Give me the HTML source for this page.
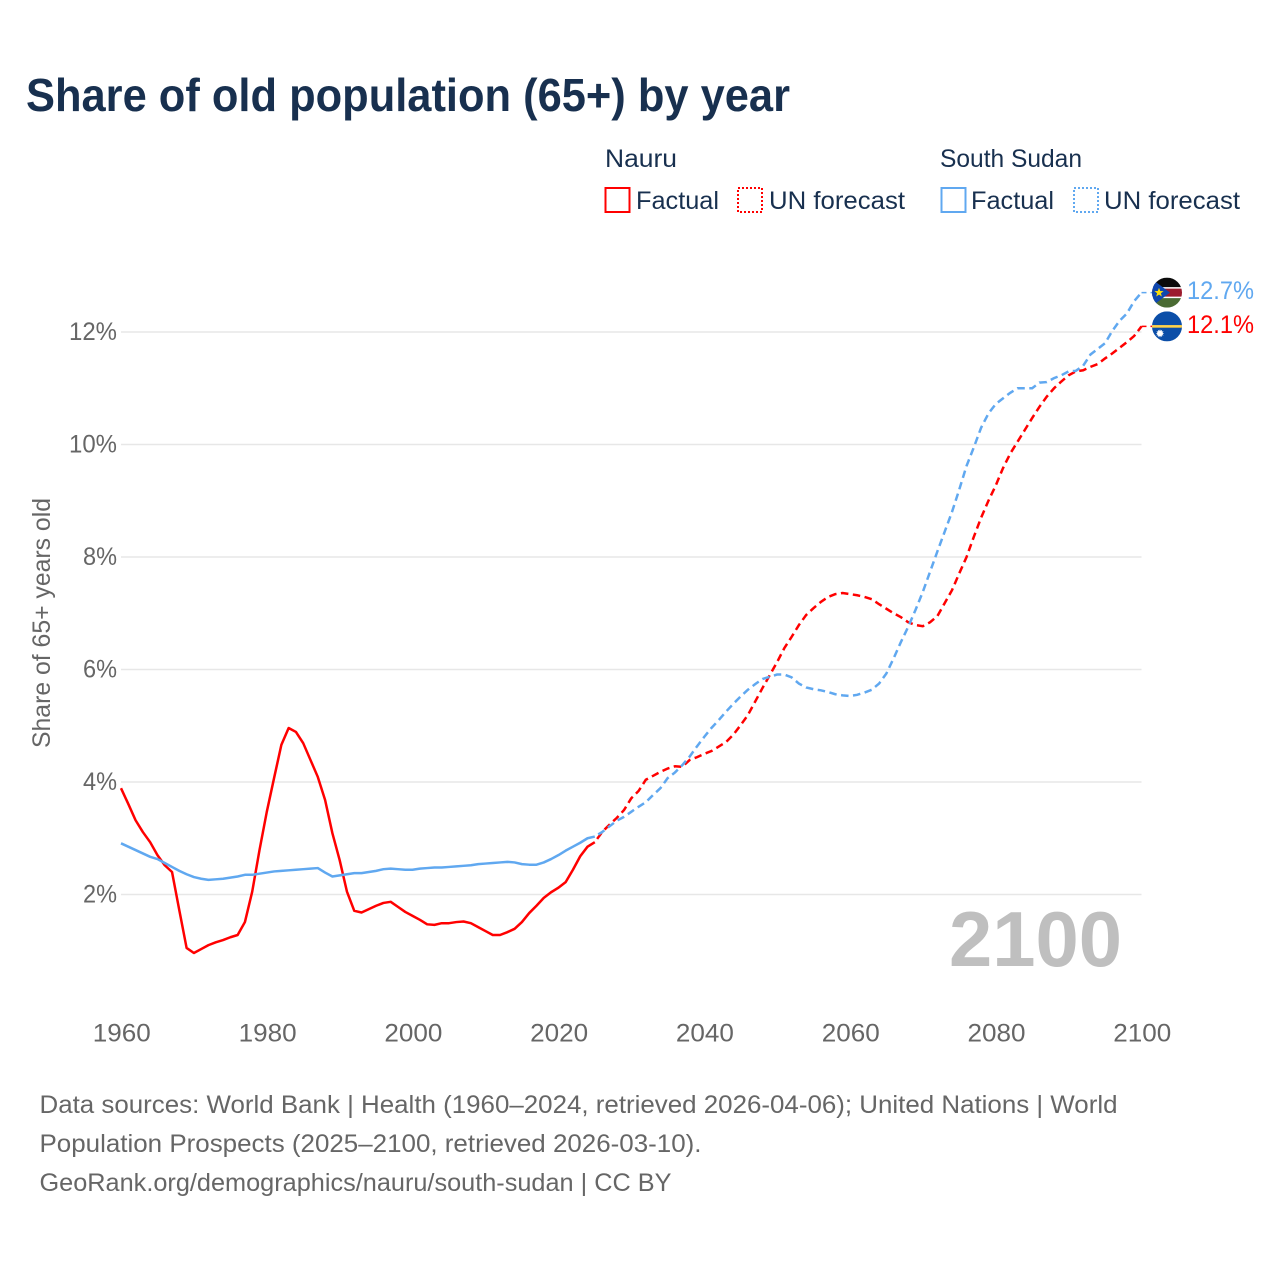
<!DOCTYPE html>
<html lang="en">
<head>
<meta charset="utf-8">
<title>Share of old population (65+) by year</title>
<style>
html,body{margin:0;padding:0;background:#fff;width:1280px;height:1280px;overflow:hidden}
svg{display:block}
text{font-family:"Liberation Sans",sans-serif}
</style>
</head>
<body>
<svg id="chart" xmlns="http://www.w3.org/2000/svg" width="1280" height="1280" viewBox="0 0 1280 1280">
  <rect x="0" y="0" width="1280" height="1280" fill="#ffffff"/>
  <text x="26" y="111" font-size="46" font-weight="700" fill="#18304f" textLength="764" lengthAdjust="spacingAndGlyphs">Share of old population (65+) by year</text>

  <g font-size="25" fill="#18304f">
    <text x="605" y="167" textLength="72" lengthAdjust="spacingAndGlyphs">Nauru</text>
    <rect x="605.5" y="188" width="24" height="24" fill="none" stroke="#ff0000" stroke-width="2"/>
    <text x="636" y="209" textLength="83" lengthAdjust="spacingAndGlyphs">Factual</text>
    <rect x="738" y="188" width="24" height="24" fill="none" stroke="#ff0000" stroke-width="2" stroke-dasharray="2 2"/>
    <text x="769" y="209" textLength="136" lengthAdjust="spacingAndGlyphs">UN forecast</text>
    <text x="940" y="167" textLength="142" lengthAdjust="spacingAndGlyphs">South Sudan</text>
    <rect x="941.5" y="188" width="24" height="24" fill="none" stroke="#60a8f0" stroke-width="2"/>
    <text x="971" y="209" textLength="83" lengthAdjust="spacingAndGlyphs">Factual</text>
    <rect x="1074" y="188" width="24" height="24" fill="none" stroke="#60a8f0" stroke-width="2" stroke-dasharray="2 2"/>
    <text x="1104" y="209" textLength="136" lengthAdjust="spacingAndGlyphs">UN forecast</text>
  </g>

  <g id="grid"></g>
  <g id="y-ticks"></g>
  <g id="x-ticks"></g>
  <text transform="translate(50 748) rotate(-90)" font-size="25" fill="#666666" textLength="250" lengthAdjust="spacingAndGlyphs">Share of 65+ years old</text>
  <text x="949" y="966" font-size="78" font-weight="700" fill="#bfbfbf" textLength="173" lengthAdjust="spacingAndGlyphs">2100</text>

  <g id="series"></g>
  <g id="end-labels"></g>

  <g font-size="25" fill="#666666">
    <text x="39.5" y="1113" textLength="1078" lengthAdjust="spacingAndGlyphs">Data sources: World Bank | Health (1960–2024, retrieved 2026-04-06); United Nations | World</text>
    <text x="39.5" y="1152" textLength="662" lengthAdjust="spacingAndGlyphs">Population Prospects (2025–2100, retrieved 2026-03-10).</text>
    <text x="39.5" y="1191" textLength="632" lengthAdjust="spacingAndGlyphs">GeoRank.org/demographics/nauru/south-sudan | CC BY</text>
  </g>
</svg>
<script>
const firstYear = 1960;
const lastFactualYear = 2024;
const yTickValues = [2, 4, 6, 8, 10, 12];
const xTickYears = [1960, 1980, 2000, 2020, 2040, 2060, 2080, 2100];
const nauruValues = [
3.89,3.61,3.32,3.11,2.93,2.70,2.52,2.40,1.72,1.05,
0.96,1.03,1.10,1.15,1.19,1.24,1.28,1.51,2.05,2.79,
3.47,4.07,4.66,4.96,4.89,4.69,4.39,4.09,3.68,3.09,
2.61,2.05,1.71,1.68,1.74,1.80,1.85,1.87,1.78,1.69,
1.62,1.55,1.47,1.46,1.49,1.49,1.51,1.52,1.49,1.42,
1.35,1.28,1.28,1.33,1.39,1.51,1.67,1.80,1.94,2.04,
2.12,2.22,2.44,2.68,2.85,2.93,3.11,3.24,3.36,3.50,
3.71,3.84,4.04,4.11,4.18,4.24,4.28,4.27,4.39,4.44,
4.50,4.55,4.63,4.71,4.84,5.01,5.19,5.43,5.67,5.90,
6.13,6.38,6.58,6.79,6.97,7.09,7.20,7.29,7.34,7.36,
7.34,7.32,7.29,7.25,7.16,7.08,7.00,6.93,6.84,6.79,
6.77,6.84,6.95,7.18,7.41,7.71,8.00,8.36,8.70,9.00,
9.27,9.58,9.84,10.05,10.26,10.47,10.67,10.85,11.00,11.12,
11.23,11.30,11.32,11.38,11.43,11.53,11.62,11.72,11.82,11.93,12.10];
const southSudanValues = [
2.91,2.85,2.79,2.73,2.67,2.63,2.56,2.49,2.42,2.36,
2.31,2.28,2.26,2.27,2.28,2.30,2.32,2.35,2.35,2.37,
2.39,2.41,2.42,2.43,2.44,2.45,2.46,2.47,2.39,2.32,
2.34,2.36,2.38,2.38,2.40,2.42,2.45,2.46,2.45,2.44,
2.44,2.46,2.47,2.48,2.48,2.49,2.50,2.51,2.52,2.54,
2.55,2.56,2.57,2.58,2.57,2.54,2.53,2.53,2.57,2.63,
2.70,2.78,2.85,2.92,3.00,3.03,3.11,3.21,3.31,3.38,
3.47,3.56,3.64,3.77,3.89,4.07,4.17,4.30,4.45,4.63,
4.80,4.96,5.10,5.25,5.39,5.52,5.64,5.74,5.83,5.87,
5.91,5.91,5.86,5.75,5.68,5.65,5.63,5.60,5.56,5.54,
5.53,5.55,5.59,5.64,5.75,5.93,6.20,6.49,6.76,7.06,
7.38,7.74,8.10,8.45,8.80,9.20,9.62,9.95,10.30,10.55,
10.72,10.82,10.92,11.00,11.00,11.00,11.10,11.11,11.18,11.23,
11.30,11.31,11.40,11.60,11.70,11.80,12.02,12.20,12.33,12.55,12.70];

const SVG_NS = 'http://www.w3.org/2000/svg';
const xScale = function (year) { return 121 + (year - 1960) * (1141.5 - 121) / 140; };
const yScale = function (value) { return 1007 - value * 56.25; };

function make(tag, parentId) {
  const el = document.createElementNS(SVG_NS, tag);
  document.getElementById(parentId).appendChild(el);
  return el;
}

yTickValues.forEach(function (v) {
  const line = make('line', 'grid');
  
  
  line.setAttribute('x1', 121);
  line.setAttribute('x2', 1141.5);
  line.setAttribute('y1', yScale(v));
  line.setAttribute('y2', yScale(v));
  line.setAttribute('stroke', '#e7e7e7');
  line.setAttribute('stroke-width', '1.5');

  const label = make('text', 'y-ticks');
  
  
  label.setAttribute('x', 117);
  label.setAttribute('y', yScale(v) + 8);
  label.setAttribute('text-anchor', 'end');
  label.setAttribute('font-size', '25');
  label.setAttribute('fill', '#666666');
  label.setAttribute('textLength', v >= 10 ? 48 : 34);
  label.setAttribute('lengthAdjust', 'spacingAndGlyphs');
  label.textContent = v + '%';
});

xTickYears.forEach(function (yr) {
  const label = make('text', 'x-ticks');
  
  
  label.setAttribute('x', xScale(yr) + 0.8);
  label.setAttribute('y', 1041.5);
  label.setAttribute('text-anchor', 'middle');
  label.setAttribute('font-size', '25');
  label.setAttribute('fill', '#666666');
  label.setAttribute('textLength', 58);
  label.setAttribute('lengthAdjust', 'spacingAndGlyphs');
  label.textContent = String(yr);
});

function pathFor(values, fromYear, toYear) {
  let d = '';
  values.forEach(function (v, i) {
    const yr = firstYear + i;
    if (yr < fromYear || yr > toYear) return;
    d += (d ? 'L' : 'M') + xScale(yr).toFixed(2) + ' ' + yScale(v).toFixed(2);
  });
  return d;
}

function drawSeries(values, color, key) {
  const last = firstYear + values.length - 1;

  const solid = make('path', 'series');
  
  
  solid.setAttribute('d', pathFor(values, firstYear, lastFactualYear + 1));
  solid.setAttribute('fill', 'none');
  solid.setAttribute('stroke', color);
  solid.setAttribute('stroke-width', '2.5');
  solid.setAttribute('stroke-linejoin', 'round');

  const dashed = make('path', 'series');
  
  
  dashed.setAttribute('d', pathFor(values, lastFactualYear + 1, last));
  dashed.setAttribute('fill', 'none');
  dashed.setAttribute('stroke', color);
  dashed.setAttribute('stroke-width', '2.5');
  dashed.setAttribute('stroke-dasharray', '7.5 4.5');
  dashed.setAttribute('stroke-dashoffset', '-4');

  const conn = make('line', 'series');
  
  
  conn.setAttribute('x1', xScale(last));
  conn.setAttribute('x2', 1152);
  conn.setAttribute('y1', yScale(values[values.length - 1]));
  conn.setAttribute('y2', yScale(values[values.length - 1]));
  conn.setAttribute('stroke', color);
  conn.setAttribute('stroke-width', '1.4');
  conn.setAttribute('stroke-dasharray', '5 4');
}

drawSeries(nauruValues, '#ff0000', 'nauru');
drawSeries(southSudanValues, '#60a8f0', 'south-sudan');

function endLabel(values, color, key) {
  const cy = yScale(values[values.length - 1]);
  const label = make('text', 'end-labels');
  
  
  label.setAttribute('x', 1187);
  label.setAttribute('y', cy + 6.5);
  label.setAttribute('font-size', '25');
  label.setAttribute('fill', color);
  label.setAttribute('textLength', 67);
  label.setAttribute('lengthAdjust', 'spacingAndGlyphs');
  label.textContent = values[values.length - 1].toFixed(1) + '%';
  return cy;
}

function flagGroup(key, cy) {
  const clip = make('clipPath', 'end-labels');
  clip.setAttribute('id', 'clip-' + key);
  const c = document.createElementNS(SVG_NS, 'circle');
  c.setAttribute('cx', 1167);
  c.setAttribute('cy', cy);
  c.setAttribute('r', 15);
  clip.appendChild(c);
  const g = make('g', 'end-labels');
  g.setAttribute('clip-path', 'url(#clip-' + key + ')');
  g.setAttribute('id', 'flag-' + key);
  
  
  return 'flag-' + key;
}

function band(parentId, x, y, w, h, fill) {
  const r = make('rect', parentId);
  r.setAttribute('x', x);
  r.setAttribute('y', y);
  r.setAttribute('width', w);
  r.setAttribute('height', h);
  r.setAttribute('fill', fill);
}

function poly(parentId, pts, fill) {
  const p = make('polygon', parentId);
  p.setAttribute('points', pts.map(function (q) { return q[0].toFixed(1) + ',' + q[1].toFixed(1); }).join(' '));
  p.setAttribute('fill', fill);
}

function star(cx, cy, R, n, ratio) {
  const pts = [];
  for (let i = 0; i < n * 2; i++) {
    const r = i % 2 ? R * ratio : R;
    const a = -Math.PI / 2 + i * Math.PI / n;
    pts.push([cx + r * Math.cos(a), cy + r * Math.sin(a)]);
  }
  return pts;
}

const ssCy = endLabel(southSudanValues, '#60a8f0', 'south-sudan');
const ssFlag = flagGroup('south-sudan', ssCy);
band(ssFlag, 1152, ssCy - 15, 30, 30, '#ffffff');
band(ssFlag, 1152, ssCy - 15, 30, 9.5, '#0b0b0b');
band(ssFlag, 1152, ssCy - 4, 30, 8, '#9c1c2e');
band(ssFlag, 1152, ssCy + 5.5, 30, 9.5, '#4a6b33');
poly(ssFlag, [[1150, ssCy - 15], [1170, ssCy], [1150, ssCy + 15]], '#0f47af');
poly(ssFlag, star(1159, ssCy, 4.8, 5, 0.42), '#fcdd09');

const naCy = endLabel(nauruValues, '#ff0000', 'nauru');
const naFlag = flagGroup('nauru', naCy);
band(naFlag, 1152, naCy - 15, 30, 30, '#0b4ea8');
band(naFlag, 1152, naCy - 1.3, 30, 2.6, '#ffd24a');
poly(naFlag, star(1160, naCy + 7, 4.2, 12, 0.62), '#ffffff');
</script>
</body>
</html>
